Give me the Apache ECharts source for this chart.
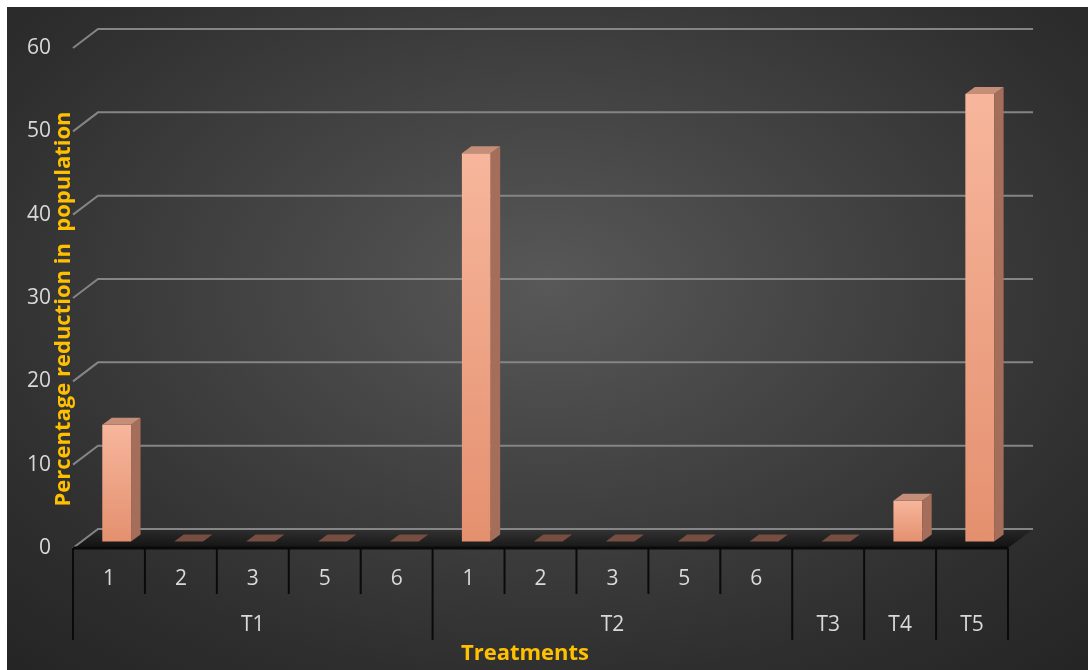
<!DOCTYPE html>
<html>
<head>
<meta charset="utf-8">
<script src="https://cdn.jsdelivr.net/npm/echarts@6/dist/echarts.min.js"></script>
<style>
  html, body { margin: 0; padding: 0; background: #fff; }
  #bg {
    position: absolute; left: 7px; top: 7px; width: 1081px; height: 663px;
    background: radial-gradient(ellipse 75% 80% at 50% 42%, #585858 0%, #444 35%, #2e2e2e 75%, #242424 100%);
  }
  #chart { position: absolute; left: 0; top: 0; width: 1088px; height: 670px; }
</style>
</head>
<body>
<div id="bg"></div>
<div id="chart"></div>
<script>
// sub-categories (row 1 of the axis) and treatment groups (row 2)
const categories = ['1', '2', '3', '5', '6', '1', '2', '3', '5', '6', '', '', '']
const groups = ['T1', 'T2', 'T3', 'T4', 'T5']
const groupSpans = [5, 5, 1, 1, 1]
// percentage reduction in population
const values = [14, 0, 0, 0, 0, 46.6, 0, 0, 0, 0, 0, 4.9, 53.7]
const yTicks = [0, 10, 20, 30, 40, 50, 60]

const FONT = '"Open Sans", Lato, sans-serif'
const LABEL = '#d9d9d9'
const GOLD = '#ffc000'

// depth of the 3d wall, and where the bars sit inside it
const WALL_DX = 25, WALL_DY = -19
const BAR_DX = 7.7, BAR_DY = -6.5
const BAR_DEPTH_X = 9.5, BAR_DEPTH_Y = -7

// group labels sit under the middle column of each group
const groupLabels = categories.map(() => '')
const groupEdges = [0]
groupSpans.forEach((s, g) => {
  const start = groupEdges[groupEdges.length - 1]
  groupLabels[start + Math.floor(s / 2)] = groups[g]
  groupEdges.push(start + s)
})

function renderFrame(params, api) {
  const bw = api.size([1, 0])[0]
  const x0 = api.coord([0, 0])[0] - bw / 2
  const x1 = api.coord([categories.length - 1, 0])[0] + bw / 2
  const yb = api.coord([0, 0])[1]
  const kids = []
  kids.push({
    type: 'polygon',
    shape: { points: [[x0, yb], [x1, yb], [x1 + WALL_DX, yb + WALL_DY], [x0 + WALL_DX, yb + WALL_DY]] },
    style: {
      fill: new echarts.graphic.LinearGradient(0, 0, 0, 1, [
        { offset: 0, color: 'rgba(0,0,0,0.15)' },
        { offset: 1, color: 'rgba(0,0,0,0.6)' },
      ]),
    },
  })
  yTicks.forEach((v) => {
    const y = api.coord([0, v])[1]
    kids.push({
      type: 'polyline',
      shape: { points: [[x0, y], [x0 + WALL_DX, y + WALL_DY], [x1 + WALL_DX, y + WALL_DY]] },
      style: { stroke: '#858585', lineWidth: 2, fill: null },
    })
  })
  // table under the floor
  kids.push({ type: 'line', shape: { x1: x0, y1: yb, x2: x1, y2: yb }, style: { stroke: '#0a0a0a', lineWidth: 3 } })
  for (let i = 0; i <= categories.length; i++) {
    const x = x0 + i * bw
    const len = groupEdges.includes(i) ? 92 : 46
    kids.push({ type: 'line', shape: { x1: x, y1: yb, x2: x, y2: yb + len }, style: { stroke: '#0a0a0a', lineWidth: 2 } })
  }
  return { type: 'group', children: kids }
}

function renderBar(params, api) {
  const i = api.value(0)
  const v = api.value(1)
  const top = api.coord([i, v])
  const base = api.coord([i, 0])
  const w = api.size([1, 0])[0] * 0.4
  const xl = top[0] + BAR_DX - w / 2
  const xr = xl + w
  const yt = top[1] + BAR_DY
  const yb = base[1] + BAR_DY
  const dx = BAR_DEPTH_X, dy = BAR_DEPTH_Y
  const topFace = [[xl, yt], [xr, yt], [xr + dx, yt + dy], [xl + dx, yt + dy]]
  if (v <= 0) {
    return { type: 'polygon', shape: { points: topFace }, style: { fill: '#764e41' } }
  }
  return {
    type: 'group',
    children: [
      {
        type: 'rect',
        shape: { x: xl, y: yt, width: w, height: yb - yt },
        style: {
          fill: new echarts.graphic.LinearGradient(0, 0, 0, 1, [
            { offset: 0, color: '#f7b69c' },
            { offset: 1, color: '#e4906f' },
          ]),
        },
      },
      {
        type: 'polygon',
        shape: { points: [[xr, yt], [xr + dx, yt + dy], [xr + dx, yb + dy], [xr, yb]] },
        style: { fill: '#a46e5a' },
      },
      { type: 'polygon', shape: { points: topFace }, style: { fill: '#c48e78' } },
    ],
  }
}

const chart = echarts.init(document.getElementById('chart'))
chart.setOption({
  animation: false,
  backgroundColor: 'transparent',
  grid: { left: 73, right: 80, top: 48, bottom: 122 },
  xAxis: [
    {
      type: 'category',
      data: categories,
      axisLine: { show: false },
      axisTick: { show: false },
      axisLabel: { interval: 0, color: LABEL, fontSize: 21, fontFamily: FONT, margin: 21 },
    },
    {
      type: 'category',
      data: groupLabels,
      position: 'bottom',
      axisLine: { show: false },
      axisTick: { show: false },
      axisLabel: { interval: 0, color: LABEL, fontSize: 21, fontFamily: FONT, margin: 67 },
    },
  ],
  yAxis: {
    type: 'value',
    min: 0,
    max: 60,
    interval: 10,
    axisLine: { show: false },
    axisTick: { show: false },
    splitLine: { show: false },
    axisLabel: { color: LABEL, fontSize: 21, fontFamily: FONT, margin: 22 },
  },
  graphic: [
    {
      type: 'text',
      x: 525,
      y: 654,
      style: { text: 'Treatments', fill: GOLD, font: 'bold 22px ' + FONT, align: 'center', verticalAlign: 'middle' },
    },
    {
      type: 'text',
      x: 64,
      y: 309,
      rotation: Math.PI / 2,
      style: {
        text: 'Percentage reduction in  population',
        fill: GOLD,
        font: 'bold 22px ' + FONT,
        align: 'center',
        verticalAlign: 'middle',
      },
    },
  ],
  series: [
    {
      type: 'custom',
      z: 1,
      renderItem: renderFrame,
      data: [[0, 0]],
      encode: { x: 0, y: 1 },
    },
    {
      type: 'custom',
      z: 2,
      renderItem: renderBar,
      data: values.map((v, i) => [i, v]),
      encode: { x: 0, y: 1 },
    },
  ],
})
</script>
</body>
</html>
